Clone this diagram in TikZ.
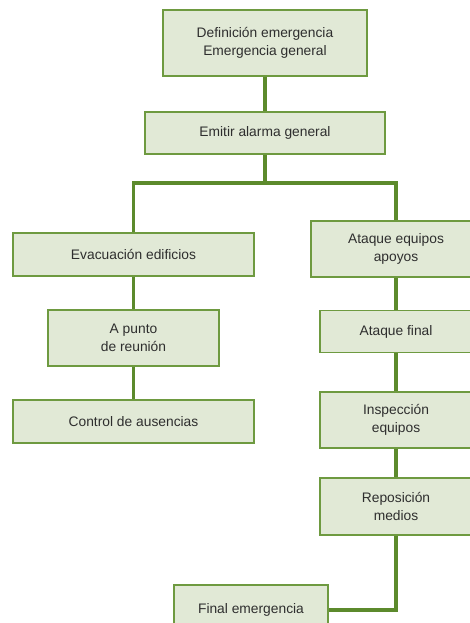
\documentclass[tikz,border=0pt]{standalone}
\usepackage{fontspec}
\setmainfont{Liberation Sans}
\definecolor{boxfill}{HTML}{E1E9D6}
\definecolor{boxline}{HTML}{6E9A40}
\definecolor{linkgreen}{HTML}{5C8A2C}
\begin{document}
\begin{tikzpicture}[x=1pt,y=-1pt,
  box/.style={draw=boxline,line width=1.2pt,fill=boxfill,inner sep=0pt,align=center,
     font=\fontsize{13.8}{18}\selectfont,text=black!82},
  link/.style={draw=linkgreen,line width=3.6pt}]
\useasboundingbox (0,0) rectangle (470,623);
\clip (0,0) rectangle (470,623);
% nodes
\node[box,minimum width=204pt,minimum height=66pt] (a) at (265,43) {Definición emergencia\\Emergencia general};
\node[box,minimum width=240pt,minimum height=42pt] (b) at (265,133) {Emitir alarma general};
\node[box,minimum width=241pt,minimum height=43pt] (c) at (133.5,254.5) {Evacuación edificios};
\node[box,minimum width=171pt,minimum height=56pt] (d) at (133.5,338) {A punto\\de reunión};
\node[box,minimum width=241pt,minimum height=43pt] (e) at (133.5,421.5) {Control de ausencias};
\node[box,minimum width=170pt,minimum height=56pt] (f) at (396,249) {Ataque equipos\\apoyos};
\node[box,minimum width=152pt,minimum height=42pt] (g) at (396,331.5) {Ataque final};
\node[box,minimum width=152pt,minimum height=56pt] (h) at (396,420) {Inspección\\equipos};
\node[box,minimum width=152pt,minimum height=57pt] (i) at (396,506.5) {Reposición\\medios};
\node[box,minimum width=154pt,minimum height=50pt] (j) at (251,610) {\raisebox{4pt}{Final emergencia}};
\coordinate (junc) at (265,183);
% connectors
\draw[link] (a.south) -- (b.north);
\draw[link] (b.south) -- (junc);
\draw[link,line join=miter] (c.north) |- (junc) -| (f.north);
\draw[link] (c.south) -- (d.north);
\draw[link] (d.south) -- (e.north);
\draw[link] (f.south) -- (g.north);
\draw[link] (g.south) -- (h.north);
\draw[link] (h.south) -- (i.north);
\draw[link,line join=miter] (i.south) |- (j.east);
\end{tikzpicture}
\end{document}
